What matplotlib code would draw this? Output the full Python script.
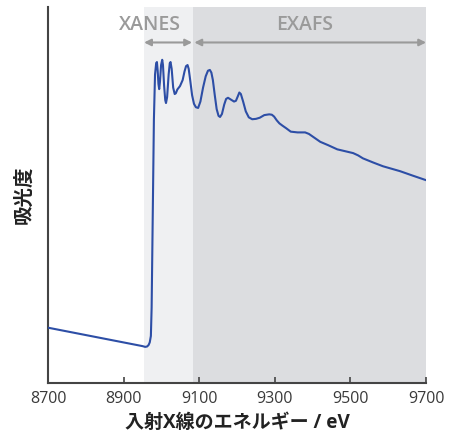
import matplotlib
matplotlib.use("Agg")
import matplotlib.pyplot as plt

plt.rcParams['font.family'] = ['Open Sans', 'Noto Sans CJK JP', 'DejaVu Sans']

# X-ray absorption spectrum (energy in eV, absorbance in arbitrary units)
energy = [8700, 8950, 8957, 8962, 8966, 8969, 8972, 8974, 8977, 8980,
          8983, 8986, 8988, 8990, 8992, 8994, 8996, 8999, 9002, 9004,
          9007, 9010, 9012, 9015, 9019, 9022, 9024, 9027, 9031, 9035,
          9038, 9042, 9049, 9056, 9061, 9065, 9069, 9072, 9076, 9081,
          9086, 9091, 9097, 9103, 9110, 9117, 9123, 9128, 9132, 9136,
          9141, 9146, 9151, 9155, 9160, 9166, 9171, 9176, 9184, 9192,
          9197, 9202, 9206, 9210, 9216, 9223, 9231, 9240, 9250, 9260,
          9272, 9285, 9292, 9298, 9305, 9312, 9320, 9330, 9342, 9360,
          9380, 9390, 9400, 9420, 9441, 9465, 9486, 9507, 9520, 9533,
          9560, 9586, 9631, 9665, 9700]
absorbance = [0.147, 0.098, 0.096, 0.097, 0.101, 0.108, 0.125, 0.20, 0.45, 0.70,
              0.82, 0.850, 0.853, 0.83, 0.795, 0.781, 0.80, 0.845, 0.859, 0.845,
              0.79, 0.752, 0.744, 0.76, 0.82, 0.850, 0.853, 0.835, 0.785, 0.768,
              0.770, 0.780, 0.789, 0.805, 0.828, 0.842, 0.845, 0.835, 0.805, 0.765,
              0.742, 0.733, 0.731, 0.748, 0.785, 0.815, 0.830, 0.832, 0.825, 0.805,
              0.765, 0.728, 0.710, 0.707, 0.715, 0.740, 0.755, 0.758, 0.753, 0.748,
              0.750, 0.762, 0.772, 0.768, 0.748, 0.722, 0.706, 0.701, 0.702, 0.705,
              0.712, 0.714, 0.713, 0.708, 0.698, 0.690, 0.684, 0.677, 0.668, 0.666,
              0.666, 0.662, 0.655, 0.641, 0.632, 0.621, 0.616, 0.611, 0.605, 0.597,
              0.586, 0.576, 0.563, 0.551, 0.539]

# region boundaries (eV)
xanes_range = [8954, 9084]
exafs_range = [9084, 9700]
xticks = [8700, 8900, 9100, 9300, 9500, 9700]

fig = plt.figure(figsize=(4.49, 4.34), dpi=100)
ax = fig.add_axes([0.107, 0.1175, 0.842, 0.867])

ax.axvspan(xanes_range[0], xanes_range[1], color='#eff0f2', lw=0, zorder=0)
ax.axvspan(exafs_range[0], exafs_range[1], color='#dcdde0', lw=0, zorder=0)

ax.plot(energy, absorbance, color='#2d4ea6', lw=1.5, zorder=3,
        solid_joinstyle='round')

ax.set_xlim(8700, 9700)
ax.set_ylim(0, 1)
ax.set_xticks(xticks)
ax.set_yticks([])
ax.tick_params(axis='x', direction='in', length=4, width=1.2, color='#444444',
               labelsize=11.5, labelcolor='#3a3a3a', pad=6)
for s in ['top', 'right']:
    ax.spines[s].set_visible(False)
for s in ['left', 'bottom']:
    ax.spines[s].set_color('#444444')
    ax.spines[s].set_linewidth(1.5)

gray = '#9a9a9a'
arrow_y = 0.905
ax.annotate('', xy=(xanes_range[0], arrow_y), xytext=(xanes_range[1] - 3, arrow_y),
            arrowprops=dict(arrowstyle='<|-|>', color=gray, lw=1.5,
                            mutation_scale=10, shrinkA=0, shrinkB=0))
ax.annotate('', xy=(exafs_range[0] + 3, arrow_y), xytext=(exafs_range[1], arrow_y),
            arrowprops=dict(arrowstyle='<|-|>', color=gray, lw=1.5,
                            mutation_scale=10, shrinkA=0, shrinkB=0))
ax.text(8970, 0.952, 'XANES', color=gray, fontsize=14, fontweight='semibold',
        ha='center', va='center')
ax.text(9378, 0.952, 'EXAFS', color=gray, fontsize=14, fontweight='semibold',
        ha='center', va='center')

ax.set_xlabel('入射X線のエネルギー / eV', fontsize=13.7, fontweight='bold',
              color='#222222', labelpad=4)
ax.set_ylabel('吸光度', fontsize=14, fontweight='bold', color='#222222', labelpad=10)

fig.savefig('out.png', dpi=100)
